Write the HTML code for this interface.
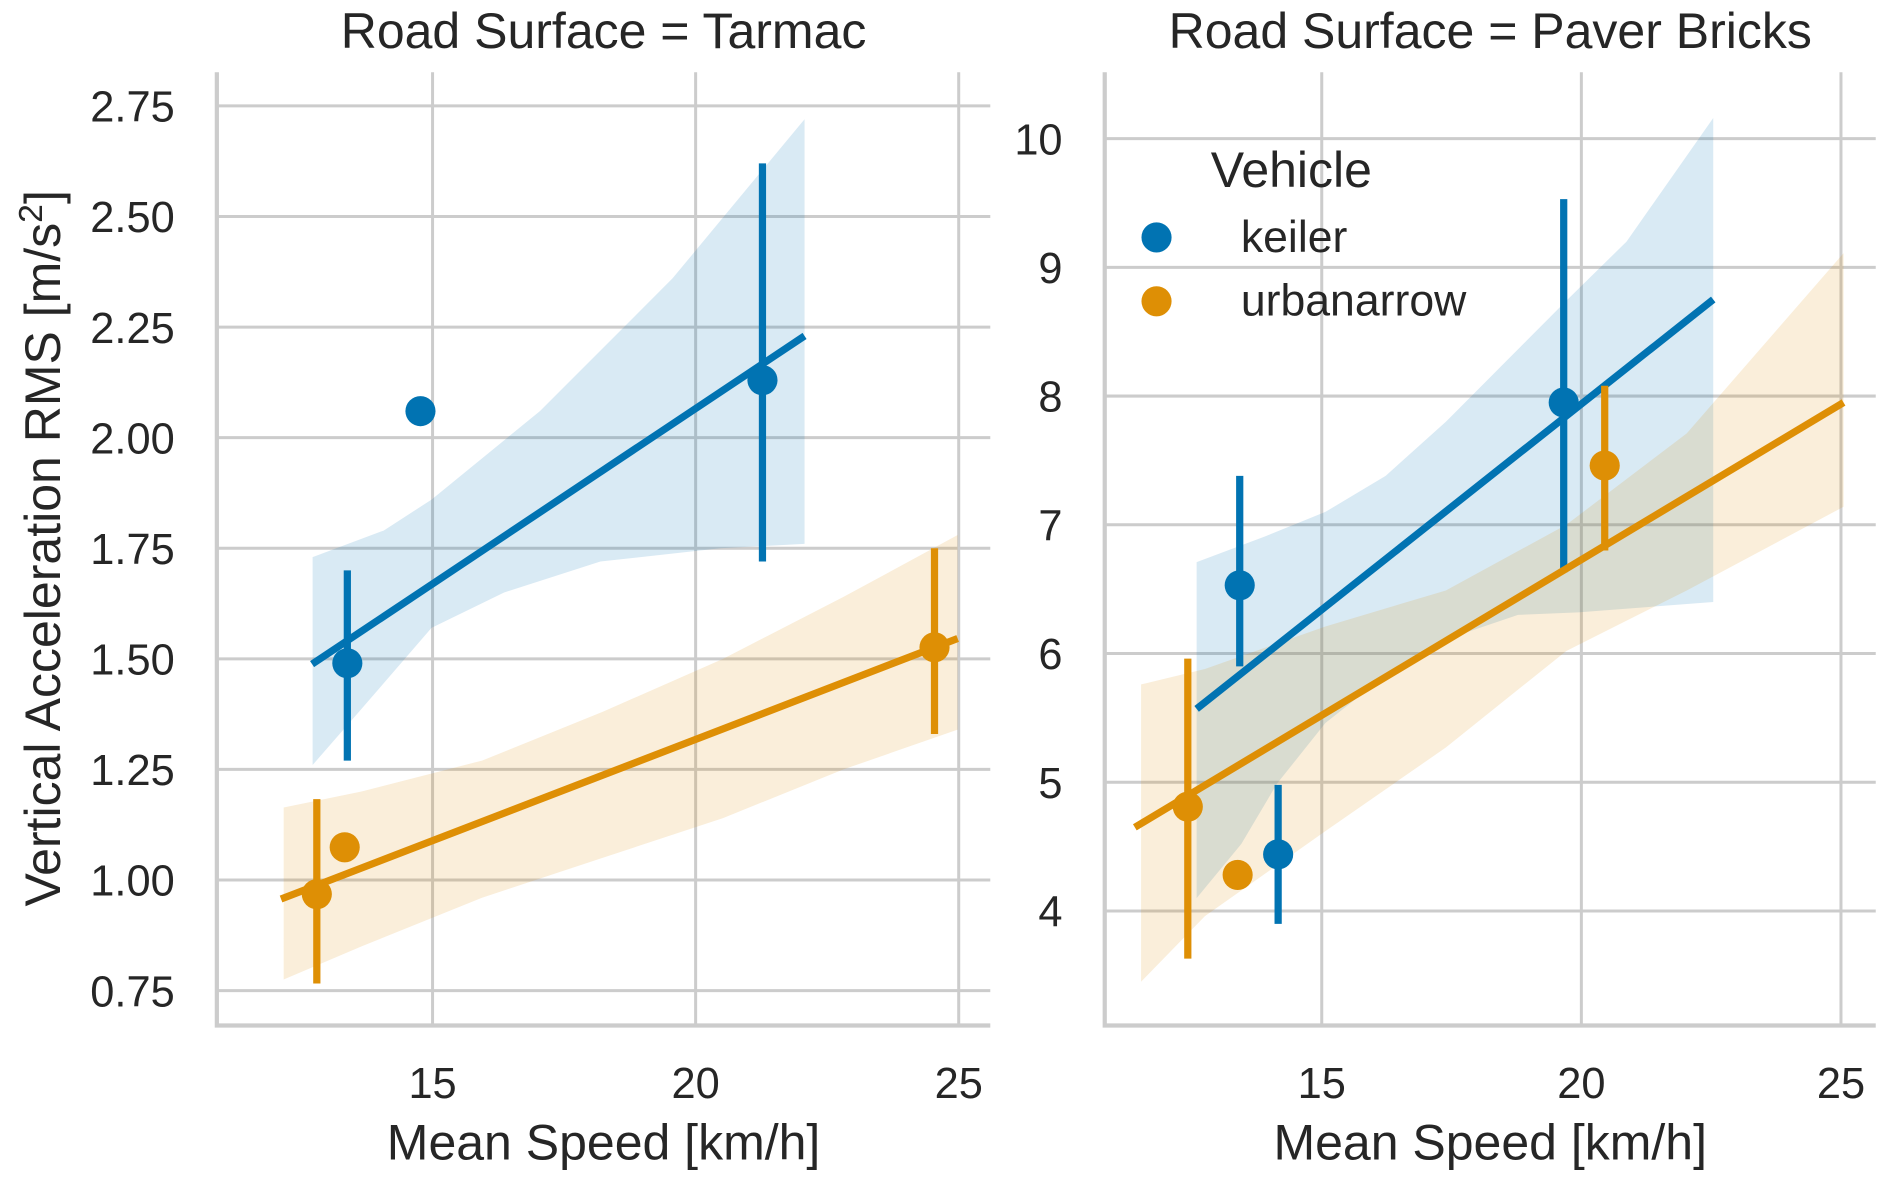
<!DOCTYPE html>
<html><head><meta charset="utf-8"><style>
html,body{margin:0;padding:0;background:#fff}
svg{display:block}
text{font-family:"Liberation Sans",sans-serif;fill:#262626}
</style></head><body>
<svg id="chart" width="1889" height="1181" viewBox="0 0 1568 980" preserveAspectRatio="none" xmlns="http://www.w3.org/2000/svg">
<text x="50" y="455" font-size="41.5" text-anchor="middle" transform="rotate(-90 50 455)">Vertical Acceleration RMS [m/s<tspan dy="-15" font-size="28">2</tspan><tspan dy="15">]</tspan></text>
</svg>
<script>
// ---- data ----
const xTicks = [15, 20, 25];
const tarmacYTicks = [0.75, 1.00, 1.25, 1.50, 1.75, 2.00, 2.25, 2.50, 2.75];
const paverYTicks = [4, 5, 6, 7, 8, 9, 10];

// Tarmac
const tarmacKeilerX = [13.38, 14.77, 21.27];
const tarmacKeilerY = [1.49, 2.06, 2.13];
const tarmacKeilerLo = [1.27, null, 1.72];
const tarmacKeilerHi = [1.70, null, 2.62];
const tarmacKeilerFit = [[12.71, 1.488], [22.07, 2.23]];
const tarmacKeilerBandX = [12.72, 14.07, 14.98, 17.04, 19.56, 22.07];
const tarmacKeilerBandHi = [1.73, 1.79, 1.86, 2.06, 2.36, 2.72];
const tarmacKeilerBandLoX = [12.72, 13.6, 14.98, 16.36, 18.19, 20.47, 22.07];
const tarmacKeilerBandLo = [1.26, 1.38, 1.57, 1.65, 1.72, 1.75, 1.76];

const tarmacUrbanX = [12.8, 13.33, 24.54];
const tarmacUrbanY = [0.968, 1.074, 1.526];
const tarmacUrbanLo = [0.766, null, 1.33];
const tarmacUrbanHi = [1.183, null, 1.75];
const tarmacUrbanFit = [[12.12, 0.957], [24.98, 1.546]];
const tarmacUrbanBandX = [12.17, 13.65, 15.94, 18.23, 20.52, 22.81, 24.98];
const tarmacUrbanBandHi = [1.164, 1.20, 1.27, 1.38, 1.50, 1.64, 1.78];
const tarmacUrbanBandLo = [0.775, 0.85, 0.96, 1.05, 1.14, 1.25, 1.34];

// Paver Bricks
const paverKeilerX = [13.42, 14.16, 19.66];
const paverKeilerY = [6.53, 4.44, 7.95];
const paverKeilerLo = [5.90, 3.90, 6.63];
const paverKeilerHi = [7.38, 4.98, 9.53];
const paverKeilerFit = [[12.59, 5.57], [22.54, 8.75]];
const paverKeilerBandX = [12.59, 13.91, 15.07, 16.23, 17.39, 18.55, 19.71, 20.87, 22.54];
const paverKeilerBandHi = [6.71, 6.91, 7.1, 7.38, 7.8, 8.27, 8.74, 9.2, 10.16];
const paverKeilerBandLoX = [12.59, 13.45, 14.14, 15.07, 16.23, 17.39, 18.78, 19.94, 22.54];
const paverKeilerBandLo = [4.1, 4.52, 4.99, 5.46, 5.83, 6.11, 6.3, 6.32, 6.4];

const paverUrbanX = [12.42, 13.38, 20.45];
const paverUrbanY = [4.81, 4.28, 7.46];
const paverUrbanLo = [3.63, null, 6.8];
const paverUrbanHi = [5.96, null, 8.08];
const paverUrbanFit = [[11.40, 4.65], [25.05, 7.95]];
const paverUrbanBandX = [11.52, 12.75, 15.07, 17.39, 19.71, 22.03, 25.05];
const paverUrbanBandHi = [5.76, 5.88, 6.21, 6.49, 7.0, 7.71, 9.11];
const paverUrbanBandLo = [3.45, 3.96, 4.62, 5.27, 6.02, 6.49, 7.14];

const BLUE = '#0173b2', ORANGE = '#de8f05';
const svg = document.getElementById('chart');
const NS = 'http://www.w3.org/2000/svg';
function mk(tag, attrs) {
  const e = document.createElementNS(NS, tag);
  for (const k in attrs) e.setAttribute(k, attrs[k]);
  svg.appendChild(e);
  return e;
}

function panel(p) {
  const sx = v => p.left + (v - p.x0) / (p.x1 - p.x0) * (p.right - p.left);
  const sy = v => p.bottom - (v - p.y0) / (p.y1 - p.y0) * (p.bottom - p.top);
  p.yTicks.forEach(t => {
    const g = mk('line', {x1: p.left, x2: p.right, y1: sy(t), y2: sy(t), stroke: '#cccccc', 'stroke-width': 2.5});
    
    
    const l = mk('text', {x: p.left - 35, y: sy(t) + 13, 'font-size': 36, 'text-anchor': 'end'});
    l.textContent = p.yFmt(t);
    
    
  });
  xTicks.forEach(t => {
    const g = mk('line', {x1: sx(t), x2: sx(t), y1: p.top, y2: p.bottom, stroke: '#cccccc', 'stroke-width': 2.5});
    
    
    const l = mk('text', {x: sx(t), y: p.bottom + 60, 'font-size': 36, 'text-anchor': 'middle'});
    l.textContent = t;
    
    
  });
  const sp = mk('path', {d: `M${p.left},${p.top}V${p.bottom}H${p.right}`, fill: 'none', stroke: '#cccccc', 'stroke-width': 3.5});
  
  
  const title = mk('text', {x: (p.left + p.right) / 2, y: 40, 'font-size': 41.5, 'text-anchor': 'middle'});
  title.textContent = p.title;
  
  
  const xt = mk('text', {x: (p.left + p.right) / 2, y: 962, 'font-size': 41.5, 'text-anchor': 'middle'});
  xt.textContent = 'Mean Speed [km/h]';
  
  

  p.series.forEach(s => {
    const upper = s.bx.map((x, i) => `${sx(x)},${sy(s.bhi[i])}`);
    const lx = s.blx || s.bx;
    const lower = lx.map((x, i) => `${sx(x)},${sy(s.blo[i])}`).reverse();
    const band = mk('polygon', {points: upper.concat(lower).join(' '), fill: s.color, 'fill-opacity': 0.15});
    
    
  });
  p.series.forEach(s => {
    const fl = mk('line', {x1: sx(s.fit[0][0]), y1: sy(s.fit[0][1]), x2: sx(s.fit[1][0]), y2: sy(s.fit[1][1]), stroke: s.color, 'stroke-width': 6});
    
    
    s.x.forEach((x, i) => {
      if (s.lo[i] !== null) {
        const eb = mk('line', {x1: sx(x), x2: sx(x), y1: sy(s.lo[i]), y2: sy(s.hi[i]), stroke: s.color, 'stroke-width': 6});
        
        
      }
      const c = mk('circle', {cx: sx(x), cy: sy(s.y[i]), r: 12.5, fill: s.color});
      
      
    });
  });
}

panel({left: 180, right: 822, top: 60, bottom: 851, x0: 10.9, x1: 25.6, y0: 0.671, y1: 2.826,
  yTicks: tarmacYTicks, yFmt: t => t.toFixed(2), title: 'Road Surface = Tarmac',
  series: [
    {name: 'keiler', color: BLUE, x: tarmacKeilerX, y: tarmacKeilerY, lo: tarmacKeilerLo, hi: tarmacKeilerHi, fit: tarmacKeilerFit, bx: tarmacKeilerBandX, bhi: tarmacKeilerBandHi, blx: tarmacKeilerBandLoX, blo: tarmacKeilerBandLo},
    {name: 'urbanarrow', color: ORANGE, x: tarmacUrbanX, y: tarmacUrbanY, lo: tarmacUrbanLo, hi: tarmacUrbanHi, fit: tarmacUrbanFit, bx: tarmacUrbanBandX, bhi: tarmacUrbanBandHi, blo: tarmacUrbanBandLo}
  ]});
panel({left: 917, right: 1557, top: 60, bottom: 851, x0: 10.82, x1: 25.67, y0: 3.11, y1: 10.515,
  yTicks: paverYTicks, yFmt: t => String(t), title: 'Road Surface = Paver Bricks',
  series: [
    {name: 'keiler', color: BLUE, x: paverKeilerX, y: paverKeilerY, lo: paverKeilerLo, hi: paverKeilerHi, fit: paverKeilerFit, bx: paverKeilerBandX, bhi: paverKeilerBandHi, blx: paverKeilerBandLoX, blo: paverKeilerBandLo},
    {name: 'urbanarrow', color: ORANGE, x: paverUrbanX, y: paverUrbanY, lo: paverUrbanLo, hi: paverUrbanHi, fit: paverUrbanFit, bx: paverUrbanBandX, bhi: paverUrbanBandHi, blo: paverUrbanBandLo}
  ]});

const lt = mk('text', {x: 1005, y: 155, 'font-size': 41.5});
lt.textContent = 'Vehicle';


[['keiler', BLUE, 197], ['urbanarrow', ORANGE, 250]].forEach(([n, c, y]) => {
  const d = mk('circle', {cx: 960, cy: y, r: 12.5, fill: c});
  
  
  const t = mk('text', {x: 1030, y: y + 12, 'font-size': 37});
  t.textContent = n;
  
  
});
</script>
</body></html>
